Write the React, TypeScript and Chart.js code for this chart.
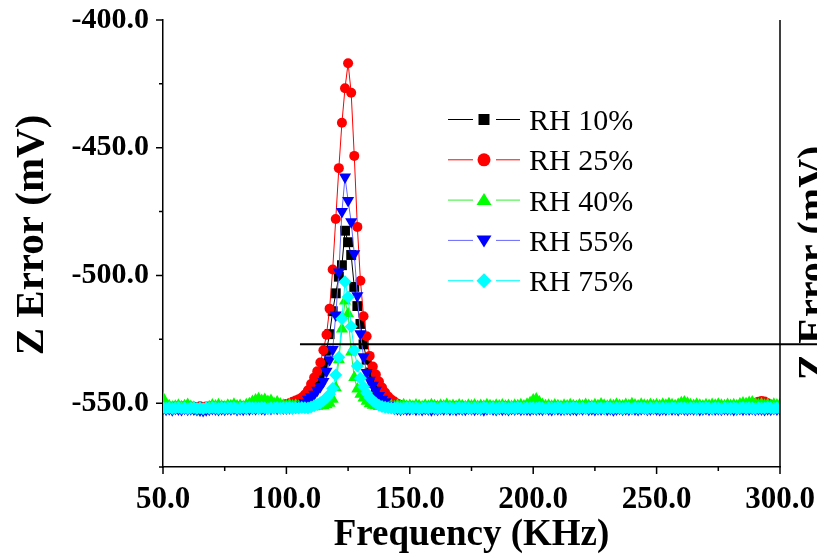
import { useEffect, useRef } from 'react';
import { Chart, registerables } from 'chart.js';

Chart.register(...registerables);

// Frequency sweep: 50 kHz .. 300 kHz, one sample every 1.25 kHz (201 samples)
const FREQ_START = 50;
const FREQ_STEP = 1.25;

const X_MIN = 50;
const X_MAX = 300;
const Y_MIN = -575;
const Y_MAX = -400;
const X_STEP = 25;
const Y_STEP = 25;

const seriesNames = ['RH 10%', 'RH 25%', 'RH 40%', 'RH 55%', 'RH 75%'];
const xTitle = 'Frequency (KHz)';
const yTitle = 'Z Error (mV)';

const rh10 = [
  -551.5,-551.9,-551.6,-552.0,-551.5,-551.8,-551.9,-551.4,-551.8,-551.6,
  -551.7,-552.1,-551.5,-551.8,-551.6,-551.9,-551.4,-551.7,-552.0,-551.5,
  -551.8,-551.6,-551.7,-551.4,-551.9,-551.7,-551.5,-551.8,-551.6,-551.4,
  -551.7,-551.5,-551.8,-551.3,-551.6,-551.7,-551.4,-551.5,-551.2,-551.4,
  -551.3,-551.3,-551.1,-551.0,-550.8,-550.0,-549.0,-547.5,-546.0,-544.0,
  -541.5,-538.5,-534.5,-529.5,-523.0,-514.0,-507.0,-500.5,-496.0,-482.5,
  -487.0,-492.0,-504.5,-512.0,-519.0,-527.0,-533.0,-538.0,-542.0,-545.0,
  -547.5,-549.0,-550.2,-551.0,-551.4,-551.6,-551.5,-551.8,-551.6,-551.7,
  -551.9,-551.5,-551.8,-551.6,-552.0,-551.7,-551.5,-551.8,-551.6,-551.9,
  -551.6,-551.8,-551.4,-551.7,-551.9,-551.5,-551.8,-551.6,-551.7,-552.0,
  -551.5,-551.7,-551.9,-551.6,-551.8,-551.4,-551.7,-551.9,-551.5,-551.8,
  -551.7,-551.5,-551.8,-552.0,-551.6,-551.7,-551.5,-551.9,-551.6,-551.8,
  -551.4,-551.7,-551.6,-551.9,-551.5,-551.8,-551.7,-551.5,-551.9,-551.6,
  -551.8,-551.6,-551.9,-551.5,-551.7,-552.0,-551.6,-551.8,-551.5,-551.7,
  -551.9,-551.6,-551.7,-551.5,-551.8,-551.6,-551.9,-551.7,-551.5,-551.8,
  -551.6,-551.8,-551.5,-551.9,-551.7,-551.6,-551.8,-551.4,-551.7,-551.9,
  -551.5,-551.7,-551.8,-551.6,-551.9,-551.5,-551.7,-551.8,-551.6,-551.5,
  -551.8,-551.6,-551.9,-551.7,-551.5,-551.8,-551.6,-551.9,-551.7,-551.6,
  -551.7,-551.5,-551.8,-551.6,-551.9,-551.7,-551.5,-551.8,-551.6,-551.7,
  -551.6,-551.8,-551.5,-551.7,-551.9,-551.6,-551.8,-551.5,-551.7,-551.6,
  -551.7,
];

const rh25 = [
  -551.1,-551.5,-551.3,-551.6,-551.2,-551.4,-551.7,-551.2,-551.5,-551.3,
  -551.4,-551.6,-551.2,-551.5,-551.3,-551.7,-551.1,-551.4,-551.5,-551.2,
  -551.3,-551.5,-551.4,-551.1,-551.6,-551.3,-551.2,-551.5,-551.3,-551.1,
  -551.4,-551.2,-551.3,-551.0,-551.2,-551.3,-550.9,-551.1,-550.8,-550.6,
  -550.3,-550.0,-549.5,-549.0,-548.5,-547.8,-546.6,-545.0,-542.5,-540.0,
  -537.5,-534.1,-529.3,-523.2,-513.0,-497.7,-477.9,-458.0,-440.2,-426.7,
  -416.9,-428.5,-453.2,-481.0,-502.1,-516.0,-523.8,-531.5,-535.7,-538.8,
  -541.5,-543.9,-545.8,-547.4,-548.6,-549.4,-550.2,-550.7,-551.0,-551.2,
  -551.4,-551.2,-551.5,-551.3,-551.6,-551.2,-551.4,-551.5,-551.1,-551.3,
  -551.5,-551.2,-551.4,-551.6,-551.3,-551.1,-551.4,-551.2,-551.5,-551.3,
  -551.2,-551.4,-551.6,-551.3,-551.5,-551.1,-551.3,-551.6,-551.2,-551.4,
  -551.3,-551.1,-551.4,-551.6,-551.2,-551.4,-551.3,-551.5,-551.2,-551.4,
  -551.1,-551.4,-551.3,-551.5,-551.2,-551.4,-551.3,-551.1,-551.5,-551.3,
  -551.4,-551.2,-551.5,-551.1,-551.3,-551.6,-551.2,-551.4,-551.1,-551.3,
  -551.5,-551.2,-551.3,-551.1,-551.4,-551.2,-551.5,-551.3,-551.1,-551.4,
  -551.2,-551.4,-551.1,-551.5,-551.3,-551.2,-551.4,-551.0,-551.3,-551.5,
  -551.1,-551.3,-551.4,-551.2,-551.5,-551.1,-551.3,-551.4,-551.2,-551.1,
  -551.4,-551.2,-551.5,-551.3,-551.1,-551.4,-551.2,-551.5,-551.3,-551.2,
  -551.3,-551.1,-551.4,-551.2,-551.5,-551.3,-551.1,-551.4,-551.2,-551.3,
  -551.0,-550.6,-550.0,-549.5,-549.2,-549.4,-550.0,-550.6,-551.0,-551.2,
  -551.3,
];

const rh40 = [
  -548.0,-550.6,-551.0,-551.5,-551.2,-550.8,-551.4,-551.0,-550.5,-551.3,
  -551.6,-552.8,-553.2,-553.0,-552.2,-551.4,-550.7,-551.1,-550.6,-551.2,
  -551.5,-550.8,-551.0,-550.4,-551.1,-550.9,-551.4,-550.6,-550.2,-549.4,
  -548.8,-548.3,-549.0,-548.6,-549.4,-549.0,-550.1,-549.6,-550.3,-550.8,
  -551.0,-550.6,-551.1,-550.8,-551.3,-551.0,-550.7,-551.2,-551.0,-551.4,
  -551.2,-551.0,-551.0,-550.6,-550.0,-548.5,-544.0,-533.0,-521.0,-510.0,
  -515.0,-530.0,-540.0,-544.5,-546.5,-548.0,-549.3,-550.2,-550.8,-551.0,
  -551.3,-550.9,-551.2,-550.7,-551.0,-551.4,-550.8,-551.1,-550.6,-551.2,
  -550.9,-551.3,-550.7,-551.0,-551.4,-550.8,-551.2,-550.6,-551.0,-551.3,
  -550.8,-551.1,-550.5,-551.2,-550.9,-551.3,-550.7,-551.0,-551.4,-550.8,
  -551.1,-550.7,-551.3,-550.9,-551.2,-550.6,-551.0,-551.3,-550.8,-551.1,
  -550.7,-551.2,-550.9,-551.3,-550.8,-551.0,-550.6,-551.1,-550.4,-549.8,
  -548.8,-548.4,-549.6,-550.5,-551.0,-550.8,-551.2,-550.7,-551.0,-551.3,
  -550.8,-551.1,-550.6,-551.0,-551.3,-550.7,-551.1,-550.5,-550.9,-551.2,
  -550.6,-551.0,-550.3,-550.8,-551.2,-550.7,-551.0,-550.4,-550.9,-551.1,
  -550.5,-550.9,-550.2,-550.7,-551.1,-550.4,-550.8,-551.0,-550.5,-550.9,
  -550.6,-551.0,-550.4,-550.8,-550.2,-550.6,-551.0,-550.5,-549.8,-549.6,
  -550.0,-550.6,-550.9,-550.4,-550.8,-551.1,-550.6,-550.9,-550.5,-550.8,
  -550.4,-550.8,-551.0,-550.5,-550.9,-550.6,-551.0,-550.3,-549.9,-550.2,
  -549.7,-549.6,-550.2,-550.6,-550.3,-550.8,-550.5,-550.9,-550.4,-550.7,
  -550.5,
];

const rh55 = [
  -552.0,-552.4,-552.2,-552.6,-552.1,-552.3,-552.5,-552.0,-552.4,-552.2,
  -552.3,-552.5,-552.7,-552.9,-552.6,-552.4,-552.1,-552.3,-552.5,-552.2,
  -552.4,-552.1,-552.3,-552.0,-552.5,-552.2,-552.4,-552.1,-552.3,-552.0,
  -552.2,-551.9,-552.1,-552.3,-551.9,-552.1,-551.8,-552.0,-551.8,-551.9,
  -551.9,-551.8,-551.8,-551.6,-551.5,-550.8,-549.8,-548.5,-547.5,-546.5,
  -545.0,-543.5,-541.5,-537.5,-533.0,-529.0,-515.5,-498.7,-475.0,-461.5,
  -470.7,-479.0,-491.5,-508.0,-522.8,-531.8,-538.0,-541.0,-543.0,-545.0,
  -547.0,-548.5,-549.5,-550.8,-551.6,-552.0,-552.2,-552.4,-552.1,-552.3,
  -552.3,-552.0,-552.4,-552.2,-552.5,-552.1,-552.3,-552.6,-552.2,-552.4,
  -552.1,-552.3,-552.0,-552.4,-552.2,-552.5,-552.1,-552.3,-552.4,-552.0,
  -552.2,-552.4,-552.1,-552.3,-552.6,-552.2,-552.0,-552.3,-552.5,-552.1,
  -552.4,-552.2,-552.5,-552.1,-552.3,-552.0,-552.4,-552.2,-552.3,-552.5,
  -552.1,-552.3,-552.2,-552.4,-552.0,-552.3,-552.5,-552.1,-552.2,-552.4,
  -552.3,-552.1,-552.4,-552.2,-552.5,-552.1,-552.3,-552.0,-552.4,-552.2,
  -552.5,-552.2,-552.3,-552.1,-552.4,-552.2,-552.6,-552.3,-552.1,-552.4,
  -552.2,-552.4,-552.1,-552.3,-552.5,-552.2,-552.0,-552.4,-552.3,-552.1,
  -552.3,-552.5,-552.2,-552.4,-552.1,-552.3,-552.2,-552.5,-552.0,-552.3,
  -552.4,-552.1,-552.3,-552.2,-552.5,-552.3,-552.1,-552.4,-552.2,-552.3,
  -552.2,-552.4,-552.1,-552.3,-552.2,-552.5,-552.3,-552.1,-552.4,-552.2,
  -552.3,-552.1,-552.4,-552.2,-552.3,-552.5,-552.2,-552.4,-552.1,-552.3,
  -552.2,
];

const rh75 = [
  -551.7,-552.0,-551.8,-552.1,-551.9,-551.7,-552.0,-551.8,-552.1,-551.9,
  -551.8,-552.1,-551.9,-552.2,-551.8,-552.0,-551.7,-551.9,-552.1,-551.8,
  -552.0,-551.8,-551.9,-551.7,-552.1,-551.9,-551.8,-552.0,-551.7,-551.9,
  -551.8,-552.0,-551.7,-551.9,-552.1,-551.8,-551.9,-551.7,-552.0,-551.8,
  -551.9,-551.7,-552.0,-551.8,-551.9,-551.7,-551.8,-551.9,-551.5,-551.0,
  -550.5,-549.8,-549.0,-548.0,-546.5,-544.3,-539.0,-532.0,-517.0,-502.5,
  -508.4,-520.0,-529.3,-535.5,-540.3,-543.6,-546.0,-547.8,-549.0,-550.0,
  -550.8,-551.3,-551.6,-551.8,-551.9,-552.0,-551.8,-552.1,-551.9,-551.7,
  -551.8,-552.0,-551.7,-552.1,-551.9,-551.8,-552.0,-551.7,-551.9,-552.1,
  -551.9,-551.7,-552.0,-551.8,-552.1,-551.9,-551.7,-552.0,-551.8,-551.9,
  -552.0,-551.8,-551.9,-552.1,-551.7,-551.9,-552.0,-551.8,-552.1,-551.9,
  -551.7,-551.9,-552.1,-551.8,-552.0,-551.7,-551.9,-552.0,-551.8,-551.9,
  -551.8,-552.0,-551.7,-551.9,-552.1,-551.8,-551.9,-552.0,-551.7,-551.9,
  -552.1,-551.8,-552.0,-551.7,-551.9,-552.0,-551.8,-552.1,-551.9,-551.7,
  -551.9,-552.0,-551.8,-552.1,-551.7,-551.9,-552.0,-551.8,-551.9,-552.1,
  -551.8,-551.9,-552.1,-551.7,-552.0,-551.8,-551.9,-552.1,-551.8,-552.0,
  -551.7,-552.0,-551.8,-551.9,-552.1,-551.7,-551.9,-552.0,-551.8,-551.9,
  -552.0,-551.8,-551.9,-552.1,-551.8,-552.0,-551.7,-551.9,-552.1,-551.8,
  -551.9,-552.1,-551.7,-551.9,-552.0,-551.8,-552.1,-551.9,-551.7,-552.0,
  -551.8,-551.9,-552.1,-551.8,-551.9,-552.0,-551.7,-551.9,-552.0,-551.8,
  -551.9,
];

// Stray horizontal rule crossing the figure (value coordinates)
const ruleX = [105.5, 316];
const ruleY = [-526.9, -526.9];

const markerColors = ['#000000', '#ff0000', '#00ff00', '#0000ff', '#00ffff'];
const lineColors = ['#000000', '#ff0000', '#33ee33', '#6666ff', '#00ffff'];
const pointStyles = ['rect', 'circle', 'triangle', 'triangle', 'rectRot'];
const pointRotations = [0, 0, 0, 180, 0];
const pointRadii = [7, 5, 7, 7, 6.5];

const SERIF = '"Liberation Serif", "Times New Roman", serif';

function drawLegendMarker(ctx: CanvasRenderingContext2D, k: number, x: number, y: number) {
  ctx.fillStyle = markerColors[k];
  ctx.beginPath();
  if (k === 0) {
    ctx.rect(x - 5.5, y - 5.5, 11, 11);
  } else if (k === 1) {
    ctx.arc(x, y, 6.5, 0, Math.PI * 2);
  } else if (k === 2) {
    ctx.moveTo(x, y - 7);
    ctx.lineTo(x + 7.5, y + 5);
    ctx.lineTo(x - 7.5, y + 5);
    ctx.closePath();
  } else if (k === 3) {
    ctx.moveTo(x, y + 7);
    ctx.lineTo(x + 7.5, y - 5);
    ctx.lineTo(x - 7.5, y - 5);
    ctx.closePath();
  } else {
    ctx.moveTo(x, y - 7.5);
    ctx.lineTo(x + 7.5, y);
    ctx.lineTo(x, y + 7.5);
    ctx.lineTo(x - 7.5, y);
    ctx.closePath();
  }
  ctx.fill();
}

const legendPlugin = {
  id: 'originLegend',
  afterDraw(chart: any) {
    const ctx = chart.ctx as CanvasRenderingContext2D;
    ctx.save();
    seriesNames.forEach((name, k) => {
      const y = 119.5 + k * 40.3;
      ctx.strokeStyle = lineColors[k];
      ctx.lineWidth = 1;
      ctx.beginPath();
      ctx.moveTo(448, y);
      ctx.lineTo(473, y);
      ctx.moveTo(496, y);
      ctx.lineTo(520, y);
      ctx.stroke();
      drawLegendMarker(ctx, k, 484, y);
      ctx.fillStyle = '#000';
      ctx.font = `30px ${SERIF}`;
      ctx.textAlign = 'left';
      ctx.textBaseline = 'alphabetic';
      ctx.fillText(name, 529, y + 10.5);
    });
    ctx.restore();
  },
};

const framePlugin = {
  id: 'frameTicks',
  afterDraw(chart: any) {
    const ctx = chart.ctx as CanvasRenderingContext2D;
    const a = chart.chartArea;
    const xs = chart.scales.x;
    const ys = chart.scales.y;
    ctx.save();
    ctx.strokeStyle = '#000';
    ctx.lineWidth = 1.5;
    ctx.beginPath();
    ctx.moveTo(a.right, a.top);
    ctx.lineTo(a.right, a.bottom);
    xs.ticks.forEach((t: any) => {
      const px = xs.getPixelForValue(t.value);
      const len = t.value % 50 === 0 ? 7 : 4;
      ctx.moveTo(px, a.bottom);
      ctx.lineTo(px, a.bottom + len);
    });
    ys.ticks.forEach((t: any) => {
      const py = ys.getPixelForValue(t.value);
      const len = t.value % 50 === 0 ? 7 : 4;
      ctx.moveTo(a.left, py);
      ctx.lineTo(a.left - len, py);
    });
    ctx.stroke();
    ctx.fillStyle = '#000';
    ctx.textAlign = 'center';
    ctx.textBaseline = 'middle';
    // y-axis title
    ctx.save();
    ctx.translate(32, 235);
    ctx.rotate(-Math.PI / 2);
    ctx.font = `bold 41px ${SERIF}`;
    ctx.fillText(yTitle, 0, 0);
    ctx.restore();
    // clipped axis title of the neighbouring panel at the right edge
    ctx.translate(815, 263);
    ctx.rotate(-Math.PI / 2);
    ctx.font = `bold 40px ${SERIF}`;
    ctx.fillText(yTitle, 0, 0);
    ctx.restore();
  },
};

export default function App() {
  const canvasRef = useRef<HTMLCanvasElement | null>(null);

  useEffect(() => {
    document.body.style.margin = '0';
    const canvas = canvasRef.current;
    if (!canvas) return;

    const all = [rh10, rh25, rh40, rh55, rh75];
    const datasets: any[] = all.map((vals, k) => ({
      label: seriesNames[k],
      data: vals.map((v, i) => ({ x: FREQ_START + i * FREQ_STEP, y: v })),
      borderColor: lineColors[k],
      backgroundColor: markerColors[k],
      borderWidth: 1,
      pointStyle: pointStyles[k],
      pointRotation: pointRotations[k],
      pointRadius: pointRadii[k],
      pointBackgroundColor: markerColors[k],
      pointBorderColor: markerColors[k],
      pointBorderWidth: 0,
      tension: 0,
      order: 5 - k,
    }));
    datasets.push({
      label: 'rule',
      data: ruleX.map((x, i) => ({ x, y: ruleY[i] })),
      borderColor: '#000',
      borderWidth: 2,
      pointRadius: 0,
      clip: false,
      order: 0,
    });

    const chart = new Chart(canvas, {
      type: 'line',
      data: { datasets },
      plugins: [framePlugin, legendPlugin],
      options: {
        responsive: false,
        animation: false,
        events: [],
        layout: { padding: { left: 0, top: 20, right: 37, bottom: 0 } },
        plugins: {
          legend: { display: false },
          tooltip: { enabled: false },
        },
        scales: {
          x: {
            type: 'linear',
            min: X_MIN,
            max: X_MAX,
            afterFit: (s: any) => {
              s.height = 91;
              s.paddingLeft = 0;
              s.paddingRight = 0;
            },
            grid: { display: true, drawOnChartArea: false, drawTicks: false },
            border: { display: true, color: '#000', width: 1.5 },
            ticks: {
              stepSize: X_STEP,
              padding: 14,
              color: '#000',
              maxRotation: 0,
              autoSkip: false,
              font: { family: SERIF, size: 31, weight: 'bold' },
              callback: (v: any) => (Number(v) % 50 === 0 ? Number(v).toFixed(1) : ''),
            },
            title: {
              display: true,
              text: xTitle,
              color: '#000',
              font: { family: SERIF, size: 37, weight: 'bold' },
              padding: { top: 0, bottom: 0 },
            },
          },
          y: {
            type: 'linear',
            min: Y_MIN,
            max: Y_MAX,
            afterFit: (s: any) => {
              s.width = 163;
              s.paddingTop = 0;
              s.paddingBottom = 0;
            },
            grid: { display: true, drawOnChartArea: false, drawTicks: false },
            border: { display: true, color: '#000', width: 1.5 },
            ticks: {
              stepSize: Y_STEP,
              padding: 14,
              color: '#000',
              autoSkip: false,
              font: { family: SERIF, size: 30, weight: 'bold' },
              callback: (v: any) => (Number(v) % 50 === 0 ? Number(v).toFixed(1) : ''),
            },
            title: { display: false },
          },
        },
      } as any,
    });

    return () => chart.destroy();
  }, []);

  return (
    <div style={{ width: 817, height: 558 }}>
      <canvas ref={canvasRef} width={817} height={558} style={{ display: 'block' }} />
    </div>
  );
}
